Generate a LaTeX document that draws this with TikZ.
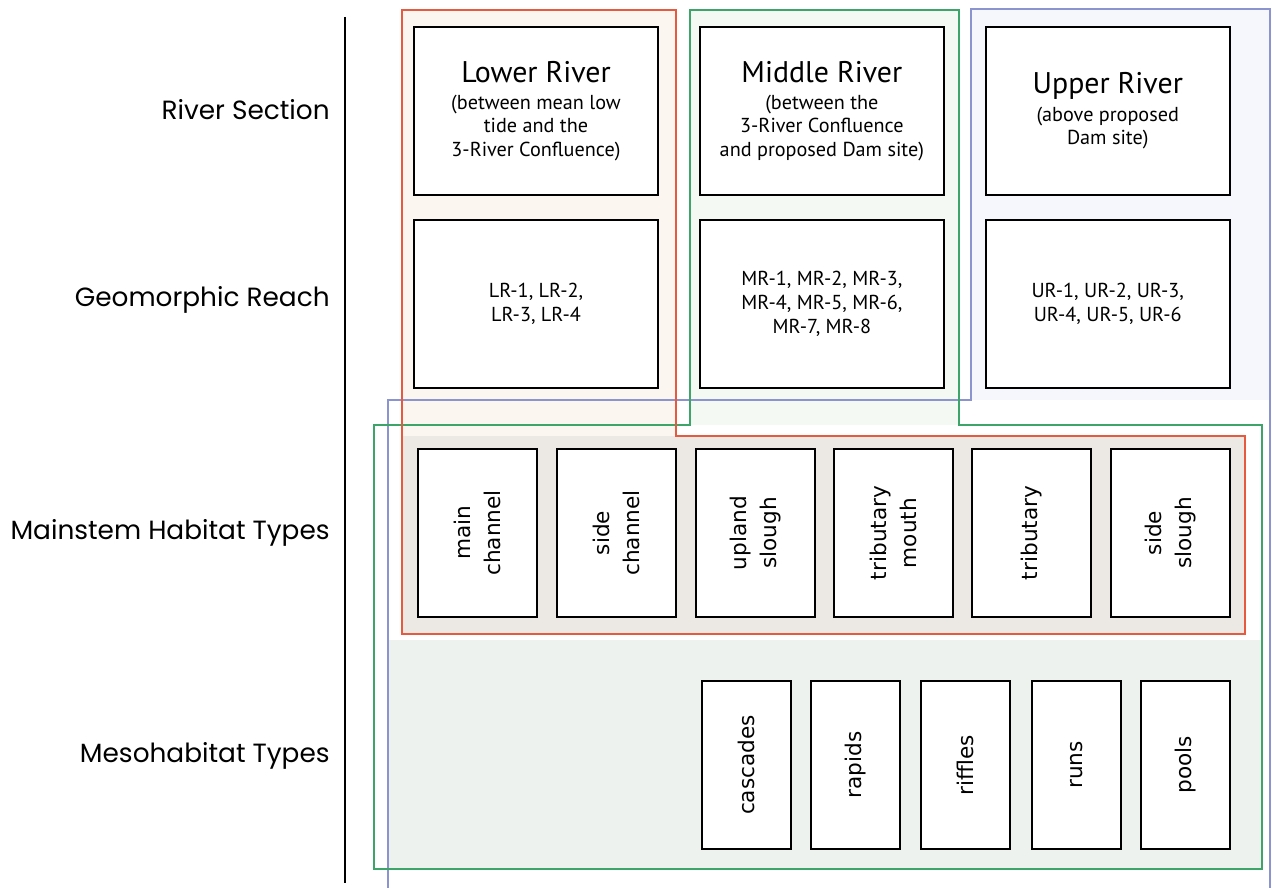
\documentclass[tikz,border=0pt]{standalone}
\usepackage{fontspec}
\setmainfont{PT Sans}
\newfontfamily\labelfont{Poppins}
\newfontfamily\habitatfont{DejaVu Sans}
\usepackage{xcolor}
\usepackage{tikz}
\usetikzlibrary{positioning}
\definecolor{lowerRed}{HTML}{E65A3F}
\definecolor{middleGreen}{HTML}{3DA56A}
\definecolor{upperBlue}{HTML}{8C94CF}
\definecolor{lowerTint}{HTML}{FCF6F1}
\definecolor{middleTint}{HTML}{F4F9F4}
\definecolor{upperTint}{HTML}{F6F7FC}
\definecolor{habitatTint}{HTML}{ECE9E4}
\definecolor{mesoTint}{HTML}{EDF2EE}
\newcommand{\rivertitle}[1]{{\fontsize{17}{20}\selectfont #1}\\[2pt]}
\tikzstyle{sectionbox} = [rectangle, draw=black, line width=1.1pt, fill=white, minimum width=4.88cm, minimum height=3.36cm, align=center, inner sep=2pt, font=\fontsize{11.5}{13.5}\selectfont]
\tikzstyle{habitat} = [rectangle, draw=black, line width=1.1pt, fill=white, rotate=90, minimum width=3.36cm, minimum height=2.38cm, align=center, inner sep=2pt, font=\habitatfont\fontsize{12.3}{17}\selectfont]
\tikzstyle{meso} = [habitat, minimum height=1.78cm]
\tikzstyle{rowlabel} = [anchor=east, inner sep=0pt, font=\labelfont\fontsize{15}{18}\selectfont]
\tikzstyle{frame} = [line width=1.2pt]

\begin{document}
\begin{tikzpicture}[x=0.02cm, y=-0.02cm]
    \useasboundingbox (0,0) rectangle (1272,888);

    \fill[lowerTint] (402,10) rectangle (676,436);
    \fill[middleTint] (690,10) rectangle (959,425);
    \fill[upperTint] (971,10) rectangle (1270,400);
    \fill[mesoTint] (388,640) rectangle (1261,869);
    \fill[habitatTint] (402,436) rectangle (1245,634);

    \draw[line width=1.3pt] (345,17) -- (345,883);
    \node (sectionLbl) [rowlabel] at (330,110) {River Section};
    \node (reachLbl) [rowlabel] at (330,300) {Geomorphic Reach};
    \node (mainstemLbl) [rowlabel] at (330,533) {Mainstem Habitat Types};
    \node (mesoLbl) [rowlabel] at (330,756) {Mesohabitat Types};

    \node (lowerSec) [sectionbox] at (536,111) {\rivertitle{Lower River}(between mean low\\tide and the\\3-River Confluence)};
    \node (middleSec) [sectionbox, right=0.8cm of lowerSec] {\rivertitle{Middle River}(between the\\3-River Confluence\\and proposed Dam site)};
    \node (upperSec) [sectionbox, right=0.8cm of middleSec] {\rivertitle{Upper River}(above proposed\\Dam site)};
    \node (lowerReach) [sectionbox, below=0.46cm of lowerSec] {LR-1, LR-2,\\LR-3, LR-4};
    \node (middleReach) [sectionbox, below=0.46cm of middleSec] {MR-1, MR-2, MR-3,\\MR-4, MR-5, MR-6,\\MR-7, MR-8};
    \node (upperReach) [sectionbox, below=0.46cm of upperSec] {UR-1, UR-2, UR-3,\\UR-4, UR-5, UR-6};

    \node (mainChan) [habitat] at (477.5,533) {main\\channel};
    \node (sideChan) [habitat] at (616.5,533) {side\\channel};
    \node (uplandSl) [habitat] at (755.5,533) {upland\\slough};
    \node (tribMouth) [habitat] at (893.5,533) {tributary\\mouth};
    \node (trib) [habitat] at (1031.5,533) {tributary};
    \node (sideSl) [habitat] at (1170.5,533) {side\\slough};

    \node (cascades) [meso] at (746.5,765) {cascades};
    \node (rapids) [meso] at (855.5,765) {rapids};
    \node (riffles) [meso] at (965.5,765) {riffles};
    \node (runs) [meso] at (1076.5,765) {runs};
    \node (pools) [meso] at (1185.5,765) {pools};

    \draw[frame, upperBlue] (388,888) -- (388,400) -- (971,400) -- (971,9) -- (1270,9) -- (1270,888);
    \draw[frame, middleGreen] (374,425) -- (690,425) -- (690,10) -- (959,10) -- (959,425) -- (1262,425) -- (1262,869) -- (374,869) -- cycle;
    \draw[frame, lowerRed] (402,10) -- (676,10) -- (676,436) -- (1245,436) -- (1245,634) -- (402,634) -- cycle;
\end{tikzpicture}
\end{document}
